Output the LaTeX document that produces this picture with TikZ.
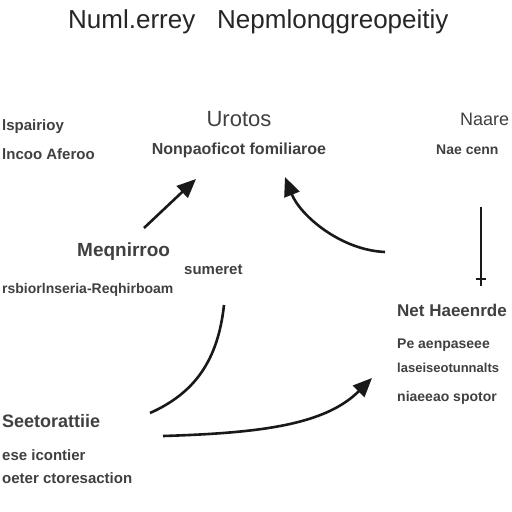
\documentclass[tikz,border=0pt]{standalone}
\usepackage{fontspec}
\setmainfont{Liberation Sans}
\usetikzlibrary{arrows.meta}
\begin{document}
\begin{tikzpicture}[x=1pt,y=-1pt,
  ttl/.style={font=\fontsize{26}{28}\selectfont, text=black!85, inner sep=0pt, anchor=west},
  hd/.style={font=\bfseries\fontsize{19}{22}\selectfont, text=black!75, inner sep=0pt},
  sub/.style={font=\bfseries\fontsize{15}{17}\selectfont, text=black!75, inner sep=0pt},
  conn/.style={line width=2.6pt, black!90},
  arr/.style={conn, -{Triangle[length=19pt,width=16pt]}}]
\useasboundingbox (0,0) rectangle (512,512);
\fill[white] (0,0) rectangle (512,512);
% title
\node[ttl] (t1) at (68,22) {Numl.errey};
\node[ttl] (t2) at (217,22) {Nepmlonqgreopeitiy};
% top-left
\node[sub, anchor=west, font=\bfseries\fontsize{15}{18}\selectfont] (a1) at (2,127) {lspairioy};
\node[sub, anchor=west] (a2) at (2,154) {lncoo Aferoo};
% top centre
\node[hd, font=\fontsize{22}{24}\selectfont] (u1) at (239,119) {Urotos};
\node[sub, font=\bfseries\fontsize{16}{18}\selectfont] (u2) at (239,150) {Nonpaoficot fomiliaroe};
% top right
\node[hd, anchor=west, font=\fontsize{18}{20}\selectfont] (n1) at (460,119) {Naare};
\node[sub, anchor=west, font=\bfseries\fontsize{14}{16}\selectfont] (n2) at (436,150) {Nae cenn};
% middle left
\node[hd, anchor=west] (m1) at (77,252) {Meqnirroo};
\node[sub, anchor=west] (m2) at (184,270) {sumeret};
\node[sub, anchor=west, font=\bfseries\fontsize{14}{16}\selectfont] (m3) at (2,290) {rsbiorlnseria-Reqhirboam};
% right middle
\node[hd, anchor=west, font=\bfseries\fontsize{17}{20}\selectfont] (h1) at (397,310) {Net Haeenrde};
\node[sub, anchor=west, font=\bfseries\fontsize{14}{16}\selectfont] (h2) at (397,345) {Pe aenpaseee};
\node[sub, anchor=west, font=\bfseries\fontsize{13}{16}\selectfont] (h3) at (397,368) {laseiseotunnalts};
\node[sub, anchor=west, font=\bfseries\fontsize{14}{16}\selectfont] (h4) at (397,398) {niaeeao spotor};
% bottom left
\node[hd, anchor=west, font=\bfseries\fontsize{18}{20}\selectfont] (s1) at (2,421) {Seetorattiie};
\node[sub, anchor=west] (s2) at (2,455) {ese icontier};
\node[sub, anchor=west] (s3) at (2,478) {oeter ctoresaction};
% connectors
\coordinate (p1) at (144,228);
\coordinate (q1) at (196,179);
\draw[arr] (p1) -- (q1);
\coordinate (p2) at (385,252);
\coordinate (q2) at (285,177);
\draw[arr] (p2) .. controls (340,250) and (300,215) .. (q2);
\coordinate (p3) at (224,305);
\coordinate (q3) at (150,413);
\draw[conn] (p3) .. controls (218,360) and (195,393) .. (q3);
\coordinate (p4) at (163,436);
\coordinate (q4) at (372,378);
\draw[arr] (p4) .. controls (260,433) and (325,425) .. (q4);
\coordinate (p5) at (481,207);
\coordinate (q5) at (481,286);
\coordinate (b5l) at (476,279);
\coordinate (b5r) at (486,279);
\draw[conn, line width=2.4pt] (p5) -- (q5);
\draw[conn, line width=2.4pt] (b5l) -- (b5r);
\end{tikzpicture}
\end{document}
